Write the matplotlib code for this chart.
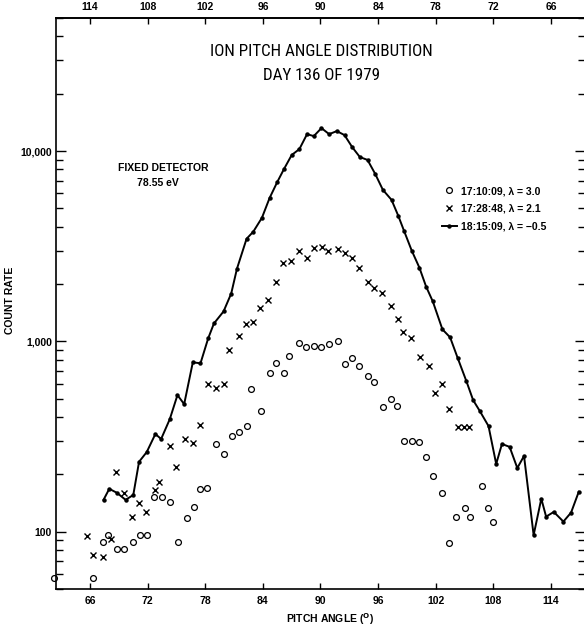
import matplotlib
matplotlib.use('Agg')
import matplotlib.pyplot as plt
from matplotlib import font_manager
from matplotlib.ticker import FixedLocator, FuncFormatter, LogLocator, NullFormatter

# fontes disponiveis
nomes = {f.name for f in font_manager.fontManager.ttflist}
fonte = 'Liberation Sans' if 'Liberation Sans' in nomes else 'DejaVu Sans'
fonte_titulo = fonte
for nome in ['Roboto Condensed', 'Liberation Sans Narrow', 'Archivo Narrow',
             'PT Sans Narrow', 'Open Sans Condensed', 'Encode Sans Condensed']:
    if nome in nomes:
        fonte_titulo = nome
        break
plt.rcParams['font.family'] = [fonte, 'DejaVu Sans']

# dados
angle_line = [67.4, 68.0, 68.8, 69.7, 70.5, 71.1, 71.9, 72.8, 73.4, 74.3,
              75.1, 75.8, 76.7, 77.5, 78.3, 78.9, 79.9, 80.7, 81.3, 82.3,
              83.0, 83.9, 84.7, 85.5, 86.2, 87.0, 87.8, 88.6, 89.3, 90.1,
              90.9, 91.7, 92.5, 93.3, 94.1, 94.9, 95.7, 96.5, 97.4, 98.1,
              98.7, 99.5, 100.3, 101.0, 101.7, 102.7, 103.5, 104.3, 105.2, 105.9,
              106.6, 107.5, 108.3, 108.9, 109.7, 110.5, 111.2, 112.2, 113.0, 113.5,
              114.3, 115.3, 116.1, 116.9]
count_line = [147, 168, 160, 147, 156, 233, 262, 326, 307, 390,
              522, 468, 776, 767, 1037, 1242, 1436, 1784, 2410, 3460,
              3770, 4460, 5670, 6880, 8050, 9530, 10240, 12270, 11980, 13200,
              12270, 12730, 12130, 10490, 9300, 8980, 7580, 6250, 5540, 4570,
              3810, 3000, 2440, 1940, 1620, 1156, 1050, 815, 617, 491,
              430, 359, 227, 289, 279, 216, 250, 96, 149, 120,
              127, 113, 126, 162]

angle_x = [65.7, 66.3, 67.3, 68.2, 68.7, 69.5, 70.4, 71.1, 71.8, 72.8,
           73.2, 74.3, 75.0, 75.9, 76.7, 77.4, 78.3, 79.1, 80.0, 80.5,
           81.5, 82.2, 83.0, 83.7, 84.5, 85.4, 86.1, 86.9, 87.8, 88.6,
           89.3, 90.2, 90.8, 91.8, 92.6, 93.3, 94.0, 94.9, 95.6, 96.4,
           97.3, 98.1, 98.6, 99.4, 100.4, 101.3, 101.9, 102.7, 103.4, 104.3,
           104.9, 105.5]
count_x = [95, 75, 74, 92, 206, 160, 120, 142, 127, 166,
           183, 282, 219, 307, 292, 363, 596, 567, 596, 897,
           1062, 1227, 1258, 1489, 1640, 2061, 2592, 2656, 2995, 2753,
           3105, 3144, 2995, 3069, 2924, 2753, 2440, 2061, 1918, 1805,
           1543, 1304, 1115, 1037, 825, 740, 534, 596, 441, 354,
           354, 354]

angle_o = [62.2, 66.3, 67.3, 67.9, 68.8, 69.5, 70.5, 71.2, 71.9, 72.7,
           73.5, 74.3, 75.2, 76.1, 76.8, 77.5, 78.2, 79.1, 79.9, 80.8,
           81.5, 82.3, 82.8, 83.8, 84.7, 85.4, 86.2, 86.7, 87.8, 88.5,
           89.3, 90.1, 90.9, 91.8, 92.6, 93.3, 94.0, 94.9, 95.6, 96.5,
           97.3, 98.0, 98.7, 99.5, 100.3, 101.0, 101.7, 102.7, 103.4, 104.1,
           105.0, 105.6, 106.8, 107.4, 108.0]
count_o = [57, 57, 88, 96, 81, 81, 88, 96, 96, 153,
           153, 144, 88, 118, 135, 168, 170, 289, 256, 318,
           334, 359, 561, 430, 680, 767, 680, 835, 976, 930,
           941, 930, 964, 1000, 758, 815, 740, 656, 610, 451,
           497, 457, 300, 300, 296, 247, 197, 160, 87, 120,
           134, 120, 174, 134, 112]

labels = ['17:10:09, \u03bb = 3.0', '17:28:48, \u03bb = 2.1', '18:15:09, \u03bb = \u22120.5']
bottom_ticks = [66, 72, 78, 84, 90, 96, 102, 108, 114]
top_ticks = [114, 108, 102, 96, 90, 84, 78, 72, 66]
y_ticks = [100, 1000, 10000]

fig = plt.figure(figsize=(5.84, 6.30), dpi=100)
# a borda direita fica fora da imagem, como no original recortado
ax = fig.add_axes([0.0959, 0.0651, 0.9058, 0.9063])

ax.plot(angle_o, count_o, 'o', color='black', mfc='none', ms=4.2, mew=0.9,
        clip_on=False, label=labels[0])
ax.plot(angle_x, count_x, 'x', color='black', ms=4.5, mew=1.0, label=labels[1])
ax.plot(angle_line, count_line, '-', color='black', lw=1.4, marker='o', ms=2.2,
        label=labels[2])

ax.set_yscale('log')
ax.set_xlim(62.45, 117.55)
ax.set_ylim(50, 50000)

ax.xaxis.set_major_locator(FixedLocator(bottom_ticks))
ax.yaxis.set_major_locator(FixedLocator(y_ticks))
ax.yaxis.set_major_formatter(FuncFormatter(lambda v, p: f'{int(v):,}'))
ax.yaxis.set_minor_locator(LogLocator(subs=range(2, 10)))
ax.yaxis.set_minor_formatter(NullFormatter())

ax.tick_params(axis='x', which='both', direction='in', length=4, width=1, pad=5,
               labelsize=7.5)
ax.tick_params(axis='y', which='major', direction='in', length=7, width=1,
               right=True, pad=3, labelsize=7.5)
ax.tick_params(axis='y', which='minor', direction='in', length=5, width=1, right=True)
for lb in ax.get_xticklabels() + ax.get_yticklabels():
    lb.set_fontweight('bold')

for s in ax.spines.values():
    s.set_linewidth(1.2)

# eixo de cima com 180 - angulo
sec = ax.secondary_xaxis('top', functions=(lambda a: 180 - a, lambda a: 180 - a))
sec.set_xticks(top_ticks)
sec.tick_params(direction='in', length=4, width=1, pad=4, labelsize=7.5)
for lb in sec.get_xticklabels():
    lb.set_fontweight('bold')
sec.spines['top'].set_linewidth(1.2)

t1 = fig.text(321 / 584, 1 - 52 / 630, 'ION PITCH ANGLE DISTRIBUTION', ha='center',
              va='center', fontsize=12.5, family=fonte_titulo)
t2 = fig.text(322 / 584, 1 - 75 / 630, 'DAY 136 OF 1979', ha='center', va='center',
              fontsize=12.5, family=fonte_titulo)
# ajusta o tamanho do titulo para a largura do original (224 px)
r = fig.canvas.get_renderer()
w = t1.get_window_extent(r).width
tam = 12.5 * 224 / w
t1.set_fontsize(tam)
t2.set_fontsize(tam)

fig.text(163 / 584, 1 - 168 / 630, 'FIXED DETECTOR', ha='center', va='center',
         fontsize=7.5, fontweight='bold')
fig.text(158 / 584, 1 - 183 / 630, '78.55 eV', ha='center', va='center',
         fontsize=7.5, fontweight='bold')

fig.text(10 / 584, 1 - 300 / 630, 'COUNT RATE', rotation=90, ha='center',
         va='center', fontsize=7.5, fontweight='bold')
fig.text(330 / 584, 1 - 619 / 630, r'PITCH ANGLE ($^{\mathbf{O}}$)', ha='center',
         va='center', fontsize=7.5, fontweight='bold')

leg = ax.legend(loc='upper left', bbox_to_anchor=(442 / 584, 1 - 186 / 630),
                bbox_transform=fig.transFigure, frameon=False, numpoints=1,
                handlelength=1.4, handletextpad=0.4, labelspacing=0.75,
                borderpad=0, borderaxespad=0, prop={'size': 7.5, 'weight': 'bold'})

fig.savefig('out.png', dpi=100)
